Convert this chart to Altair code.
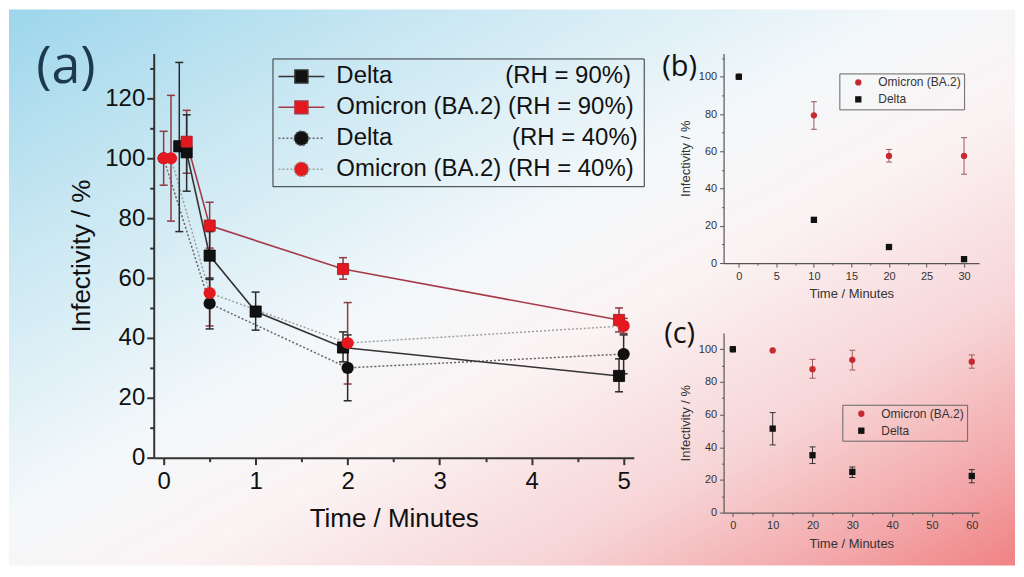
import altair as alt
import pandas as pd

FONT = "Liberation Sans"
NB = "\u00a0"

# ---------------- Panel (a) data ----------------
a_labels = ["Delta" + NB * 17 + "(RH = 90%)", "Omicron (BA.2) (RH = 90%)",
            "Delta" + NB * 18 + "(RH = 40%)", "Omicron (BA.2) (RH = 40%)"]

d90_t = [0.17, 0.25, 0.5, 1.0, 1.95, 4.95]
d90_v = [104.0, 102.0, 67.5, 48.8, 36.8, 27.3]
d90_lo = [75.5, 89.0, 59.5, 42.6, 32.0, 22.0]
d90_hi = [132.0, 114.5, 75.5, 55.3, 42.0, 33.0]

o90_t = [0.25, 0.5, 1.95, 4.95]
o90_v = [105.5, 77.5, 63.0, 46.0]
o90_lo = [95.0, 70.0, 59.6, 42.0]
o90_hi = [116.0, 85.3, 66.8, 50.0]

d40_t = [0.0, 0.5, 2.0, 5.0]
d40_v = [100.0, 51.5, 30.0, 34.6]
d40_lo = [None, 43.0, 19.0, 28.0]
d40_hi = [None, 60.0, 41.0, 41.0]

o40_t = [0.0, 0.08, 0.5, 2.0, 5.0]
o40_v = [100.0, 100.0, 55.0, 38.3, 44.0]
o40_lo = [91.0, 79.0, 44.0, 24.6, 41.5]
o40_hi = [109.0, 121.0, 66.0, 51.8, 46.5]

# ---------------- Panel (b) data ----------------
b_series = ["Omicron (BA.2)", "Delta"]
b_t = [0, 10, 20, 30]
b_om = [100.0, 79.3, 57.5, 57.5]
b_om_lo = [None, 71.8, 54.2, 47.7]
b_om_hi = [None, 86.6, 61.0, 67.3]
b_de = [100.0, 23.2, 8.6, 2.1]

# ---------------- Panel (c) data ----------------
c_t = [0, 10, 20, 30, 60]
c_om = [100.0, 99.3, 87.8, 93.5, 92.4]
c_om_lo = [None, None, 82.3, 87.3, 88.4]
c_om_hi = [None, None, 93.8, 99.4, 96.5]
c_de = [100.0, 51.4, 35.1, 24.9, 22.4]
c_de_lo = [None, 41.4, 30.0, 21.4, 18.2]
c_de_hi = [None, 61.2, 40.2, 27.9, 26.3]


def rows(key, ts, vs, los=None, his=None):
    out = []
    for i in range(len(ts)):
        out.append({"s": key, "t": ts[i], "v": vs[i],
                    "lo": los[i] if los else None,
                    "hi": his[i] if his else None})
    return out


df_a = pd.DataFrame(rows("d90", d90_t, d90_v, d90_lo, d90_hi) +
                    rows("o90", o90_t, o90_v, o90_lo, o90_hi) +
                    rows("d40", d40_t, d40_v, d40_lo, d40_hi) +
                    rows("o40", o40_t, o40_v, o40_lo, o40_hi))
df_b = pd.DataFrame(rows(b_series[0], b_t, b_om, b_om_lo, b_om_hi) +
                    rows(b_series[1], b_t, b_de))
df_c = pd.DataFrame(rows(b_series[0], c_t, c_om, c_om_lo, c_om_hi) +
                    rows(b_series[1], c_t, c_de, c_de_lo, c_de_hi))

# ---------------- background gradient ----------------
bg = alt.Chart(pd.DataFrame({"bg": [0]})).mark_rect(
    fill=alt.LinearGradient(
        gradient="linear", x1=0, y1=0, x2=1, y2=1,
        stops=[alt.GradientStop(color="#9dd6ec", offset=0.0),
               alt.GradientStop(color="#c6e6f2", offset=0.2),
               alt.GradientStop(color="#f3f8fa", offset=0.45),
               alt.GradientStop(color="#fbf3f4", offset=0.58),
               alt.GradientStop(color="#f7d5d7", offset=0.76),
               alt.GradientStop(color="#f3a8aa", offset=0.9),
               alt.GradientStop(color="#f08284", offset=1.0)]),
    stroke="transparent"
).encode(x=alt.value(-145), x2=alt.value(863), y=alt.value(-44), y2=alt.value(513))

# ---------------- Panel (a) ----------------
xs_a = alt.Scale(domain=[-0.108, 5.11], nice=False, zero=False)
ys_a = alt.Scale(domain=[0, 135], nice=False, zero=False)

ax_common_a = dict(grid=False, tickColor="#333", tickWidth=2, domainColor="#333",
                   domainWidth=2, labelFont=FONT, labelFontSize=24, labelColor="#111",
                   titleFont=FONT, titleFontSize=26, titleFontWeight="normal",
                   titleColor="#111", labelOverlap=False, zindex=1)
ax_xa = alt.Axis(orient="bottom", values=[0, 1, 2, 3, 4, 5], format="d",
                 title="Time / Minutes", tickSize=7, labelPadding=5, titlePadding=12,
                 labelFlush=False, **ax_common_a)
ax_xa_minor = alt.Axis(orient="bottom", values=[0.5, 1.5, 2.5, 3.5, 4.5], labels=False,
                       title=None, tickSize=4, domain=False, grid=False,
                       tickColor="#333", tickWidth=2, zindex=1)
ax_ya = alt.Axis(orient="left", values=[0, 20, 40, 60, 80, 100, 120], format="d",
                 title="Infectivity / %", tickSize=7, labelPadding=2, titlePadding=10,
                 labelFlush=False, **ax_common_a)
ax_ya_minor = alt.Axis(orient="left", values=[10, 30, 50, 70, 90, 110, 130], labels=False,
                       title=None, tickSize=4, domain=False, grid=False,
                       tickColor="#333", tickWidth=2, zindex=1)


def enc_a(axx=None, axy=None, yfield="v:Q"):
    return dict(x=alt.X("t:Q", scale=xs_a, axis=axx),
                y=alt.Y(yfield, scale=ys_a, axis=axy))


base_a = alt.Chart(df_a)


def sel(keys):
    return " || ".join("datum.s == '%s'" % k for k in keys)


line_d40 = base_a.transform_filter(sel(["d40"])).mark_line(
    color="#666666", strokeWidth=1.5, strokeDash=[2, 2]).encode(**enc_a(ax_xa, ax_ya))
line_o40 = base_a.transform_filter(sel(["o40"])).mark_line(
    color="#a0a0a0", strokeWidth=1.5, strokeDash=[2, 2]).encode(**enc_a(ax_xa_minor, ax_ya_minor))
line_d90 = base_a.transform_filter(sel(["d90"])).mark_line(
    color="#333333", strokeWidth=1.6).encode(**enc_a())
line_o90 = base_a.transform_filter(sel(["o90"])).mark_line(
    color="#a63a48", strokeWidth=1.6).encode(**enc_a())


def err_layers_a(keys, color):
    filt = "(%s) && isValid(datum.lo)" % sel(keys)
    rule = base_a.transform_filter(filt).mark_rule(color=color, strokeWidth=1.5).encode(
        x=alt.X("t:Q", scale=xs_a, axis=None),
        y=alt.Y("lo:Q", scale=ys_a, axis=None), y2="hi:Q")
    caps = base_a.transform_filter(filt).transform_fold(["lo", "hi"], as_=["k", "cap"]).mark_tick(
        orient="horizontal", size=8, thickness=1.5, color=color, opacity=1).encode(
        **enc_a(yfield="cap:Q"))
    return [rule, caps]


err_a = err_layers_a(["o90", "o40"], "#8e3a40") + err_layers_a(["d90", "d40"], "#2b2b2b")

sq_d90 = base_a.transform_filter(sel(["d90"])).mark_point(
    shape="square", filled=True, size=125, opacity=1, fill="#111111",
    stroke="#000000", strokeWidth=0.8).encode(**enc_a())
sq_o90 = base_a.transform_filter(sel(["o90"])).mark_point(
    shape="square", filled=True, size=125, opacity=1, fill="#e3191f",
    stroke="#9a1a20", strokeWidth=0.8).encode(**enc_a())
ci_d40 = base_a.transform_filter(sel(["d40"])).mark_point(
    shape="circle", filled=True, size=150, opacity=1, fill="#111111").encode(**enc_a())
ci_o40 = base_a.transform_filter(sel(["o40"])).mark_point(
    shape="circle", filled=True, size=150, opacity=1, fill="#e3191f").encode(**enc_a())

# legend (a): built from a scale with an explicit domain
sq_path = "M-1,0L0.333,0M1.5,0L2.833,0M0.375,-0.54L1.458,-0.54L1.458,0.54L0.375,0.54Z"
ci_path = ("M-1,0L0.312,0M1.521,0L2.833,0M1.521,0A0.604,0.604,0,1,1,0.312,0"
           "A0.604,0.604,0,1,1,1.521,0Z")
leg_a = alt.Legend(orient="none", legendX=119, legendY=5, title=None,
                   labelFont=FONT, labelFontSize=24, labelColor="#111", labelLimit=500,
                   symbolSize=576, symbolStrokeWidth=1.5, padding=5, rowPadding=6,
                   labelOffset=33, strokeColor="#333333")
legend_a = alt.Chart(pd.DataFrame({"series": a_labels})).transform_filter("false").mark_point(
    filled=True, opacity=1).encode(
    fill=alt.Fill("series:N", legend=leg_a,
                  scale=alt.Scale(domain=a_labels, range=["#111111", "#e3191f", "#111111", "#e3191f"])),
    stroke=alt.Stroke("series:N", legend=leg_a,
                      scale=alt.Scale(domain=a_labels, range=["#333333", "#a63a48", "#666666", "#a0a0a0"])),
    shape=alt.Shape("series:N", legend=leg_a,
                    scale=alt.Scale(domain=a_labels, range=[sq_path, sq_path, ci_path, ci_path])),
    strokeDash=alt.StrokeDash("series:N", legend=leg_a,
                              scale=alt.Scale(domain=a_labels, range=[[1, 0], [1, 0], [2, 2], [2, 2]])),
)

label_a = alt.Chart(pd.DataFrame({"lab": ["(a)"]})).mark_text(
    font="Open Sans", fontSize=52, color="#1d3a4c", align="center", baseline="middle"
).encode(x=alt.value(-88), y=alt.value(14), text="lab:N")

panel_a = alt.layer(bg, line_d40, line_o40, line_d90, line_o90, *err_a,
                    sq_d90, sq_o90, ci_d40, ci_o40, legend_a, label_a
                    ).resolve_axis(x="independent", y="independent").properties(width=481, height=405)


# ---------------- Panels (b) and (c) ----------------
def small_panel(df, xdom, ydom, xvals, xminor, yvals, yminor, height, legx, legy, lab, labx, laby):
    xs = alt.Scale(domain=xdom, nice=False, zero=False)
    ys = alt.Scale(domain=ydom, nice=False, zero=False)
    common = dict(grid=False, tickColor="#555", tickWidth=1, domainColor="#555",
                  domainWidth=1.2, labelFont=FONT, labelFontSize=11, labelColor="#333",
                  titleFont=FONT, titleFontSize=13, titleFontWeight="normal",
                  titleColor="#333", labelOverlap=False, labelFlush=False, zindex=1)
    axx = alt.Axis(orient="bottom", values=xvals, format="d", title="Time / Minutes",
                   tickSize=4, labelPadding=3, titlePadding=7, **common)
    axy = alt.Axis(orient="left", values=yvals, format="d", title="Infectivity / %",
                   tickSize=4, labelPadding=3, titlePadding=6, **common)
    axx_m = alt.Axis(orient="bottom", values=xminor, labels=False, title=None, tickSize=2,
                     domain=False, grid=False, tickColor="#555", tickWidth=1, zindex=1)
    axy_m = alt.Axis(orient="left", values=yminor, labels=False, title=None, tickSize=2,
                     domain=False, grid=False, tickColor="#555", tickWidth=1, zindex=1)
    base = alt.Chart(df)
    layers = []
    first = True
    for key, col in [(b_series[0], "#9c5a5a"), (b_series[1], "#333333")]:
        filt = "datum.s == '%s' && isValid(datum.lo)" % key
        rule = base.transform_filter(filt).mark_rule(color=col, strokeWidth=1).encode(
            x=alt.X("t:Q", scale=xs, axis=axx_m if first else None),
            y=alt.Y("lo:Q", scale=ys, axis=axy_m if first else None), y2="hi:Q")
        caps = base.transform_filter(filt).transform_fold(["lo", "hi"], as_=["k", "cap"]).mark_tick(
            orient="horizontal", size=6, thickness=1, color=col, opacity=1).encode(
            x=alt.X("t:Q", scale=xs, axis=None), y=alt.Y("cap:Q", scale=ys, axis=None))
        layers += [rule, caps]
        first = False
    leg = alt.Legend(orient="none", legendX=legx, legendY=legy, title=None,
                     labelFont=FONT, labelFontSize=12, labelColor="#333", labelLimit=300,
                     symbolSize=40, padding=3, symbolOffset=10, labelOffset=14,
                     rowPadding=3, strokeColor="#666666")
    pts = base.mark_point(filled=True, opacity=1, size=40).encode(
        x=alt.X("t:Q", scale=xs, axis=axx),
        y=alt.Y("v:Q", scale=ys, axis=axy),
        fill=alt.Fill("s:N", legend=leg,
                      scale=alt.Scale(domain=b_series, range=["#c62a2f", "#111111"])),
        shape=alt.Shape("s:N", legend=leg,
                        scale=alt.Scale(domain=b_series, range=["circle", "square"])),
    )
    label = alt.Chart(pd.DataFrame({"lab": [lab]})).mark_text(
        font="Open Sans", fontSize=29, color="#111111", align="center", baseline="middle"
    ).encode(x=alt.value(labx), y=alt.value(laby), text="lab:N")
    return alt.layer(*layers, pts, label).resolve_axis(
        x="independent", y="independent").properties(width=256, height=height)


panel_b = small_panel(df_b, [-2.03, 32.0], [0, 112.5], [0, 5, 10, 15, 20, 25, 30],
                      [2.5, 7.5, 12.5, 17.5, 22.5, 27.5], [0, 20, 40, 60, 80, 100],
                      [10, 30, 50, 70, 90, 110], 210, 116, 20, "(b)", -44, 14)
panel_c = small_panel(df_c, [-2.33, 61.83], [0, 110], [0, 10, 20, 30, 40, 50, 60],
                      [5, 15, 25, 35, 45, 55], [0, 20, 40, 60, 80, 100],
                      [10, 30, 50, 70, 90], 180, 119, 72, "(c)", -44, 1)

right = alt.vconcat(panel_b, panel_c, spacing=70, bounds="flush").resolve_scale(
    x="independent", y="independent", fill="independent", shape="independent")

chart = alt.hconcat(panel_a, right, spacing=90, bounds="flush").resolve_scale(
    x="independent", y="independent", fill="independent", shape="independent",
    stroke="independent", strokeDash="independent"
).properties(padding=0, background="#ffffff").configure_view(stroke="transparent")

chart.save("out.html", embed_options={"renderer": "svg", "actions": False})
